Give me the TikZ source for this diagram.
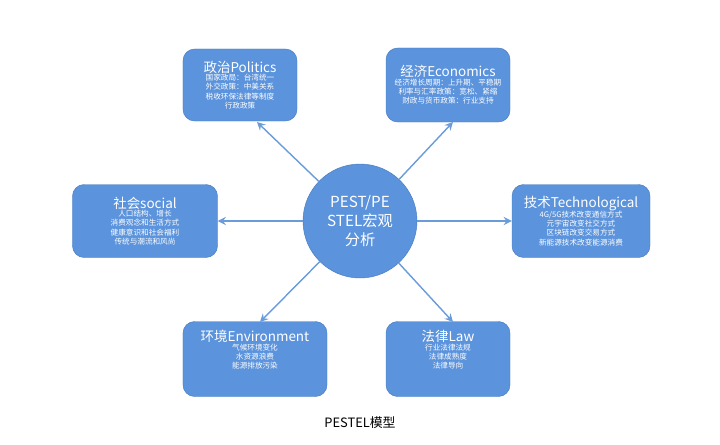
\documentclass[tikz,border=0pt]{standalone}
\usepackage{fontspec}
\setmainfont{Noto Sans CJK SC}
\usetikzlibrary{arrows.meta}
\definecolor{boxblue}{HTML}{5B93DC}
\definecolor{boxedge}{HTML}{4A7EC0}
\definecolor{arrowblue}{HTML}{6A9BDB}
\tikzset{factor/.style={draw=boxedge,fill=boxblue,rounded corners=0.35cm,text=white,align=center,font=\fontsize{6.5}{8}\selectfont,inner sep=0pt},
core/.style={circle,draw=boxedge,fill=boxblue,text=white,align=center,font=\fontsize{13}{16}\selectfont,minimum size=3.42cm,inner sep=0pt},
link/.style={arrowblue,line width=1.2pt,-{Stealth[length=7pt,width=7pt,inset=2.5pt]}}}
\newcommand{\head}[1]{{\fontsize{11.5}{14}\selectfont #1}\\[-1pt]}
\begin{document}
\begin{tikzpicture}[x=0.03cm,y=-0.03cm]
\useasboundingbox (0,0) rectangle (720,445);

%% centre
\node [core] (pest) at (360,221) {PEST/PE\\STEL宏观\\分析};

%% factor boxes
\node [factor,minimum width=3.42cm,minimum height=2.16cm] (pol) at (240,85) {\head{政治Politics}国家政局：台湾统一\\外交政策：中美关系\\税收环保法律等制度\\行政政策};
\node [factor,minimum width=3.72cm,minimum height=2.22cm] (eco) at (448,85) {\head{经济Economics}经济增长周期：上升期、平稳期\\利率与汇率政策：宽松、紧缩\\财政与货币政策：行业支持};
\node [factor,minimum width=4.35cm,minimum height=2.19cm] (soc) at (145,221) {\head{社会social}人口结构、增长\\消费观念和生活方式\\健康意识和社会福利\\传统与潮流和风尚};
\node [factor,minimum width=4.14cm,minimum height=2.19cm] (tec) at (581,221) {\head{技术Technological}4G/5G技术改变通信方式\\元宇宙改变社交方式\\区块链改变交易方式\\新能源技术改变能源消费};
\node [factor,minimum width=4.32cm,minimum height=2.25cm] (env) at (255,359) {\head{环境Environment}气候环境变化\\水资源浪费\\能源排放污染\\[8pt]};
\node [factor,minimum width=3.72cm,minimum height=2.25cm] (law) at (448,359) {\head{法律Law}行业法律法规\\法律成熟度\\法律导向\\[8pt]};

%% arrow ends
\coordinate (polend) at (257,122);
\coordinate (ecoend) at (453,122);
\coordinate (envend) at (260,322);
\coordinate (lawend) at (453,322);

%% arrows
\draw [link] (pest) -- (polend);
\draw [link] (pest) -- (ecoend);
\draw [link] (pest) -- (soc);
\draw [link] (pest) -- (tec);
\draw [link] (pest) -- (envend);
\draw [link] (pest) -- (lawend);

%% caption
\node [font=\fontsize{11}{13}\selectfont] (cap) at (360,423) {PESTEL模型};
\end{tikzpicture}
\end{document}
